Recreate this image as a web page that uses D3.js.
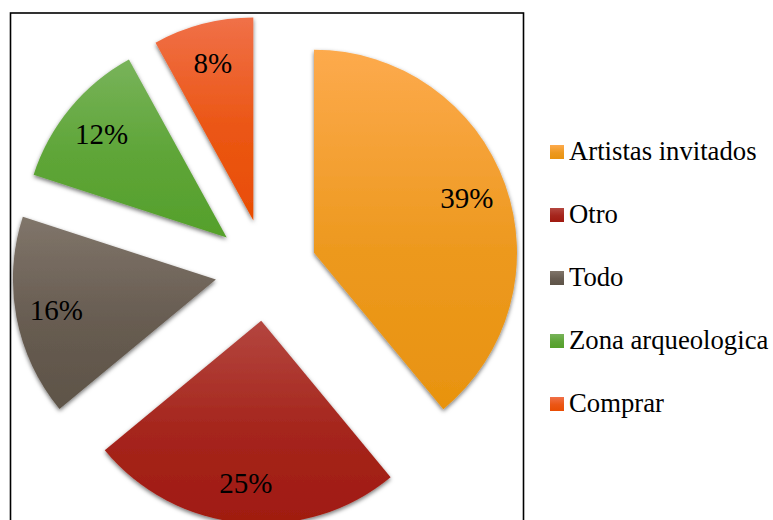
<!DOCTYPE html>
<html>
<head>
<meta charset="utf-8">
<script src="https://cdn.jsdelivr.net/npm/d3@7"></script>
<style>
  body { margin: 0; background: #fff; }
  svg { display: block; }
  text { font-family: "Liberation Serif", "Times New Roman", Times, "DejaVu Serif", serif; }
</style>
</head>
<body>
<div id="chart"></div>
<script>
// data
const categories = ["Artistas invitados", "Otro", "Todo", "Zona arqueologica", "Comprar"];
const values = [39, 25, 16, 12, 8];
const colorsTop = ["#fdaa4d", "#b4463f", "#80756a", "#78b35a", "#f07048"];
const colorsBottom = ["#e8930f", "#a01a10", "#5e5448", "#55a02b", "#e94d03"];

const width = 773, height = 520;
const cx = 266, cy = 270, radius = 203, explode = 51;

const svg = d3.select("#chart").append("svg")
  .attr("width", width)
  .attr("height", height);

const defs = svg.append("defs");

const shadow = defs.append("filter")
  .attr("id", "shadow")
  .attr("x", "-20%").attr("y", "-20%")
  .attr("width", "140%").attr("height", "140%");
shadow.append("feDropShadow")
  .attr("dx", 0).attr("dy", 2)
  .attr("stdDeviation", 2)
  .attr("flood-color", "#000")
  .attr("flood-opacity", 0.55);

categories.forEach((c, i) => {
  const g = defs.append("linearGradient")
    .attr("id", "grad" + i)
    .attr("x1", 0).attr("y1", 0).attr("x2", 0).attr("y2", 1);
  g.append("stop").attr("offset", "0%").attr("stop-color", colorsTop[i]);
  g.append("stop").attr("offset", "55%").attr("stop-color", d3.interpolateRgb(colorsTop[i], colorsBottom[i])(0.75));
  g.append("stop").attr("offset", "100%").attr("stop-color", colorsBottom[i]);
});

// plot area border
svg.append("rect")
  .attr("x", 10.5).attr("y", 13)
  .attr("width", 513).attr("height", 520)
  .attr("fill", "none")
  .attr("stroke", "#000")
  .attr("stroke-width", 1.6);

const pie = d3.pie().sort(null).value(d => d);
const arcs = pie(values);
const arc = d3.arc().innerRadius(0).outerRadius(radius);

const offset = d => {
  const a = (d.startAngle + d.endAngle) / 2;
  return [Math.sin(a) * explode, -Math.cos(a) * explode];
};

const slices = svg.append("g")
  .attr("transform", `translate(${cx},${cy})`)
  .selectAll("g")
  .data(arcs)
  .join("g")
  .attr("transform", d => `translate(${offset(d)})`);

slices.append("path")
  .attr("d", arc)
  .attr("fill", (d, i) => `url(#grad${i})`)
  .attr("filter", "url(#shadow)");

const labelArc = d3.arc().innerRadius(radius * 0.8).outerRadius(radius * 0.8);

slices.append("text")
  .attr("transform", d => `translate(${labelArc.centroid(d)})`)
  .attr("text-anchor", "middle")
  .attr("dy", "0.35em")
  .attr("font-size", 29)
  .attr("fill", "#000")
  .text(d => d.data + "%");

// legend
const legend = svg.append("g")
  .selectAll("g")
  .data(categories)
  .join("g")
  .attr("transform", (d, i) => `translate(550,${152 + i * 63})`);

legend.append("rect")
  .attr("x", 0).attr("y", -7)
  .attr("width", 14).attr("height", 14)
  .attr("fill", (d, i) => `url(#grad${i})`);

legend.append("text")
  .attr("x", 19)
  .attr("y", 8)
  .attr("font-size", 26.7)
  .attr("fill", "#000")
  .text(d => d);
</script>
</body>
</html>
